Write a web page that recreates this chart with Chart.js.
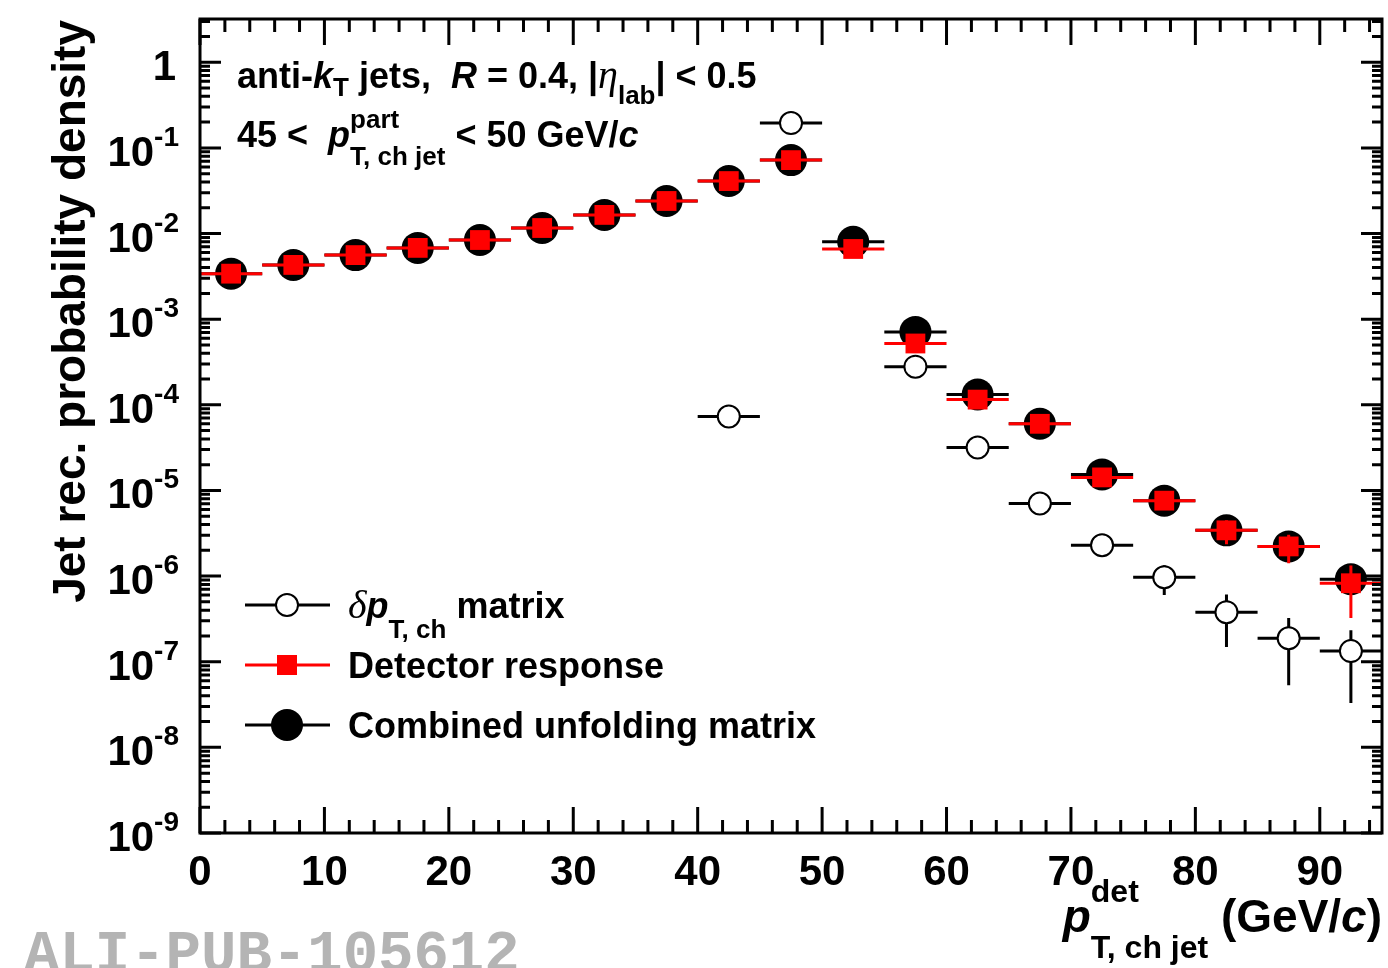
<!DOCTYPE html>
<html>
<head>
<meta charset="utf-8">
<script src="https://cdn.jsdelivr.net/npm/chart.js@4.4.1/dist/chart.umd.min.js"></script>
<style>
  html, body { margin: 0; padding: 0; background: #fff; }
  #wrap { width: 1388px; height: 968px; }
</style>
</head>
<body>
<div id="wrap"><canvas id="unfold-chart" width="1388" height="968"></canvas></div>
<script>
/* global Chart */

// bins of p_T,ch jet (det), 5 GeV/c wide
const binCenters = [2.5, 7.5, 12.5, 17.5, 22.5, 27.5, 32.5, 37.5, 42.5, 47.5,
  52.5, 57.5, 62.5, 67.5, 72.5, 77.5, 82.5, 87.5, 92.5];
const binHalfWidth = 2.5;

const combinedValues = [3.4e-3, 4.3e-3, 5.6e-3, 6.8e-3, 8.4e-3, 1.16e-2, 1.65e-2, 2.4e-2, 4.1e-2, 7.2e-2,
  8.0e-3, 7.1e-4, 1.32e-4, 6.0e-5, 1.54e-5, 7.6e-6, 3.42e-6, 2.22e-6, 9.2e-7];

const detectorValues = [3.4e-3, 4.3e-3, 5.6e-3, 6.8e-3, 8.4e-3, 1.16e-2, 1.65e-2, 2.4e-2, 4.1e-2, 7.2e-2,
  6.6e-3, 5.2e-4, 1.15e-4, 6.0e-5, 1.42e-5, 7.6e-6, 3.42e-6, 2.22e-6, 8.25e-7];
const detectorErrors = [0, 0, 0, 0, 0, 0, 0, 0, 0, 0,
  0, 0, 0, 0, 0, 0, 1.07e-6, 8.1e-7, 5.0e-7];

const dptValues = [null, null, null, null, null, null, null, null, 7.3e-5, 0.195,
  null, 2.79e-4, 3.17e-5, 7.05e-6, 2.29e-6, 9.7e-7, 3.79e-7, 1.88e-7, 1.33e-7];
const dptErrors = [0, 0, 0, 0, 0, 0, 0, 0, 0, 0,
  0, 0, 0, 0, 0, 3.7e-7, 2.3e-7, 1.35e-7, 1.0e-7];

const xTickLabels = [0, 10, 20, 30, 40, 50, 60, 70, 80, 90];
const yTickExponents = [-9, -8, -7, -6, -5, -4, -3, -2, -1, 0];

const FONT = '"Liberation Sans", Arial, Helvetica, sans-serif';
const SERIF = '"Liberation Serif", "Times New Roman", serif';

function toPoints(values, errors) {
  const pts = [];
  binCenters.forEach(function(x, i) {
    if (values[i] !== null) pts.push({ x: x, y: values[i], e: errors ? errors[i] : 0 });
  });
  return pts;
}

function setFont(ctx, size, italic, serif) {
  if (serif) {
    ctx.font = (italic ? 'italic ' : '') + size + 'px ' + SERIF;
  } else {
    ctx.font = (italic ? 'italic ' : '') + 'bold ' + size + 'px ' + FONT;
  }
}

// parts: {t, s, i, serif, dy} or stacked {sup, sub, s, supDy, subDy}
function richWidth(ctx, parts) {
  let w = 0;
  parts.forEach(function(p) {
    if (p.sup !== undefined) {
      setFont(ctx, p.s, false, false);
      w += Math.max(ctx.measureText(p.sup).width, ctx.measureText(p.sub).width);
    } else {
      setFont(ctx, p.s, p.i, p.serif);
      w += ctx.measureText(p.t).width;
    }
  });
  return w;
}

function drawRich(ctx, x, y, parts) {
  ctx.textBaseline = 'alphabetic';
  ctx.textAlign = 'left';
  parts.forEach(function(p) {
    if (p.sup !== undefined) {
      setFont(ctx, p.s, false, false);
      ctx.fillText(p.sup, x, y + p.supDy);
      ctx.fillText(p.sub, x, y + p.subDy);
      x += Math.max(ctx.measureText(p.sup).width, ctx.measureText(p.sub).width);
    } else {
      setFont(ctx, p.s, p.i, p.serif);
      ctx.fillText(p.t, x, y + (p.dy || 0));
      x += ctx.measureText(p.t).width;
    }
  });
}

// horizontal bin-width bars and vertical error bars, drawn just before each dataset's markers
const errorBars = {
  id: 'errorBars',
  beforeDatasetDraw: function(chart, args) {
    const ds = chart.data.datasets[args.index];
    const xs = chart.scales.x;
    const ys = chart.scales.y;
    const a = chart.chartArea;
    const ctx = chart.ctx;
    ctx.save();
    ctx.beginPath();
    ctx.rect(a.left, a.top, a.right - a.left, a.bottom - a.top);
    ctx.clip();
    ctx.strokeStyle = ds.barColor;
    ctx.lineWidth = 3;
    ds.data.forEach(function(p) {
      const px = xs.getPixelForValue(p.x);
      const py = ys.getPixelForValue(p.y);
      ctx.beginPath();
      ctx.moveTo(xs.getPixelForValue(p.x - binHalfWidth), py);
      ctx.lineTo(xs.getPixelForValue(p.x + binHalfWidth), py);
      if (p.e) {
        ctx.moveTo(px, ys.getPixelForValue(p.y + p.e));
        ctx.lineTo(px, ys.getPixelForValue(Math.max(p.y - p.e, 1e-12)));
      }
      ctx.stroke();
    });
    ctx.restore();
  },
};

// ROOT-like frame, inward ticks on all sides, labels, legend and texts
const frameAndText = {
  id: 'frameAndText',
  afterDraw: function(chart) {
    const ctx = chart.ctx;
    const a = chart.chartArea;
    const xs = chart.scales.x;
    const ys = chart.scales.y;
    ctx.save();
    ctx.strokeStyle = '#000';
    ctx.fillStyle = '#000';
    ctx.lineWidth = 3;

    // x ticks
    ctx.beginPath();
    for (let v = 0; v <= xs.max; v += 2) {
      const px = xs.getPixelForValue(v);
      const len = (v % 10 === 0) ? 26 : 13;
      ctx.moveTo(px, a.bottom); ctx.lineTo(px, a.bottom - len);
      ctx.moveTo(px, a.top); ctx.lineTo(px, a.top + len);
    }
    // y ticks
    yTickExponents.forEach(function(e) {
      for (let k = 1; k <= 9; k++) {
        const v = k * Math.pow(10, e);
        if (v > ys.max || v < ys.min) continue;
        const py = ys.getPixelForValue(v);
        const len = k === 1 ? 21 : 10;
        ctx.moveTo(a.left, py); ctx.lineTo(a.left + len, py);
        ctx.moveTo(a.right, py); ctx.lineTo(a.right - len, py);
      }
    });
    ctx.stroke();

    ctx.strokeRect(a.left, a.top, a.right - a.left, a.bottom - a.top);

    // x tick labels
    setFont(ctx, 42, false, false);
    ctx.textAlign = 'center';
    ctx.textBaseline = 'alphabetic';
    xTickLabels.forEach(function(v) {
      ctx.fillText(String(v), xs.getPixelForValue(v), 885);
    });

    // y tick labels
    const labelRight = 179;
    yTickExponents.forEach(function(e) {
      const py = ys.getPixelForValue(Math.pow(10, e));
      ctx.textAlign = 'right';
      if (e === 0) {
        setFont(ctx, 42, false, false);
        ctx.fillText('1', labelRight - 3, py + 18);
        return;
      }
      setFont(ctx, 28, false, false);
      const exp = String(e);
      const ew = ctx.measureText(exp).width;
      ctx.fillText(exp, labelRight, py - 2);
      setFont(ctx, 42, false, false);
      ctx.fillText('10', labelRight - ew, py + 18);
    });

    // y title
    ctx.save();
    ctx.translate(85, 20);
    ctx.rotate(-Math.PI / 2);
    setFont(ctx, 46, false, false);
    ctx.textAlign = 'right';
    ctx.textBaseline = 'alphabetic';
    ctx.fillText('Jet rec. probability density', 0, 0);
    ctx.restore();

    // x title
    const xTitle = [
      { t: 'p', s: 46, i: true },
      { sup: 'det', sub: 'T, ch jet', s: 32, supDy: -30, subDy: 26 },
      { t: ' (GeV/', s: 46 },
      { t: 'c', s: 46, i: true },
      { t: ')', s: 46 },
    ];
    drawRich(ctx, 1382 - richWidth(ctx, xTitle), 932, xTitle);

    // header
    drawRich(ctx, 237, 88, [
      { t: 'anti-', s: 36 },
      { t: 'k', s: 36, i: true },
      { t: 'T', s: 26, dy: 8 },
      { t: ' jets,  ', s: 36 },
      { t: 'R', s: 36, i: true },
      { t: ' = 0.4, |', s: 36 },
      { t: '\u03B7', s: 40, i: true, serif: true },
      { t: 'lab', s: 26, dy: 16 },
      { t: '| < 0.5', s: 36 },
    ]);
    drawRich(ctx, 237, 147, [
      { t: '45 <  ', s: 36 },
      { t: 'p', s: 36, i: true },
      { sup: 'part', sub: 'T, ch jet', s: 26, supDy: -19, subDy: 18 },
      { t: ' < 50 GeV/', s: 36 },
      { t: 'c', s: 36, i: true },
    ]);

    // legend
    const lx0 = 245, lx1 = 330, mx = 287;
    ctx.lineWidth = 3;
    // open circle
    ctx.strokeStyle = '#000';
    ctx.beginPath(); ctx.moveTo(lx0, 605); ctx.lineTo(lx1, 605); ctx.stroke();
    ctx.beginPath(); ctx.arc(mx, 605, 11, 0, Math.PI * 2);
    ctx.fillStyle = '#fff'; ctx.fill();
    ctx.lineWidth = 2; ctx.stroke();
    // red square
    ctx.lineWidth = 3;
    ctx.strokeStyle = '#ff0000';
    ctx.beginPath(); ctx.moveTo(lx0, 665); ctx.lineTo(lx1, 665); ctx.stroke();
    ctx.fillStyle = '#ff0000';
    ctx.fillRect(mx - 10, 655, 20, 20);
    // black circle
    ctx.strokeStyle = '#000';
    ctx.beginPath(); ctx.moveTo(lx0, 725); ctx.lineTo(lx1, 725); ctx.stroke();
    ctx.fillStyle = '#000';
    ctx.beginPath(); ctx.arc(mx, 725, 16, 0, Math.PI * 2); ctx.fill();

    ctx.fillStyle = '#000';
    drawRich(ctx, 348, 618, [
      { t: '\u03B4', s: 40, i: true, serif: true },
      { t: 'p', s: 36, i: true },
      { t: 'T, ch', s: 26, dy: 20 },
      { t: ' matrix', s: 36 },
    ]);
    drawRich(ctx, 348, 678, [{ t: 'Detector response', s: 36 }]);
    drawRich(ctx, 348, 738, [{ t: 'Combined unfolding matrix', s: 36 }]);

    // watermark
    ctx.fillStyle = '#b4b4b4';
    ctx.font = 'bold 59px "Liberation Mono", "DejaVu Sans Mono", monospace';
    ctx.textAlign = 'left';
    ctx.fillText('ALI-PUB-105612', 24, 971);

    ctx.restore();
  },
};

const ctx = document.getElementById('unfold-chart').getContext('2d');

new Chart(ctx, {
  type: 'scatter',
  data: {
    datasets: [
      {
        label: 'dpT matrix',
        data: toPoints(dptValues, dptErrors),
        barColor: '#000',
        pointStyle: 'circle',
        pointRadius: 11,
        pointBackgroundColor: '#fff',
        pointBorderColor: '#000',
        pointBorderWidth: 2,
      },
      {
        label: 'Detector response',
        data: toPoints(detectorValues, detectorErrors),
        barColor: '#ff0000',
        pointStyle: 'rect',
        pointRadius: 14,
        pointBackgroundColor: '#ff0000',
        pointBorderWidth: 0,
      },
      {
        label: 'Combined unfolding matrix',
        data: toPoints(combinedValues, null),
        barColor: '#000',
        pointStyle: 'circle',
        pointRadius: 16,
        pointBackgroundColor: '#000',
        pointBorderWidth: 0,
      },
    ],
  },
  options: {
    responsive: false,
    animation: false,
    devicePixelRatio: 1,
    layout: { autoPadding: false, padding: { left: 200, right: 6, top: 19, bottom: 135 } },
    scales: {
      x: {
        type: 'linear',
        min: 0,
        max: 95,
        grid: { display: false },
        border: { display: false },
        ticks: { display: false },
        afterFit: function(s) { s.height = 0; },
      },
      y: {
        type: 'logarithmic',
        min: 1e-9,
        max: 3.2,
        grid: { display: false },
        border: { display: false },
        ticks: { display: false },
        afterFit: function(s) { s.width = 0; },
      },
    },
    plugins: {
      legend: { display: false },
      tooltip: { enabled: false },
    },
  },
  plugins: [errorBars, frameAndText],
});
</script>
</body>
</html>
